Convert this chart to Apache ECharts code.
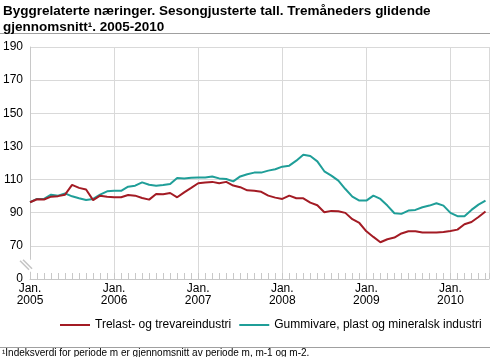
<!DOCTYPE html>
<html><head><meta charset="utf-8">
<script src="https://cdn.jsdelivr.net/npm/echarts@6/dist/echarts.min.js"></script>
<style>html,body{margin:0;padding:0;background:#fff}#c{width:496px;height:357px}</style>
</head><body><div id="c"></div>
<script>
const titleText = "Byggrelaterte næringer. Sesongjusterte tall. Tremåneders glidende\ngjennomsnitt¹. 2005-2010";
const footnote = "¹Indeksverdi for periode m er gjennomsnitt av periode m, m-1 og m-2.";
const seriesNames = ["Trelast- og trevareindustri", "Gummivare, plast og mineralsk industri"];
const yearLabels = ["2005","2006","2007","2008","2009","2010"];
const yTickLabels = ["0","70","90","110","130","150","170","190"];
// monthly values, Jan 2005 .. Jun 2010
const trelast = [96.3,98.1,98,99.7,100,100.9,106.8,105,104,97.6,100.3,99.7,
  99.3,99.3,100.7,100.3,98.9,97.9,101.3,101.1,101.9,99.3,102.3,105,
  107.8,108.2,108.6,107.8,108.6,106.4,105.4,103.5,103.2,102.6,100.3,99.1,
  98.3,100.3,98.7,98.7,96.1,94.5,90.3,91.1,90.9,89.9,86.1,83.8,
  78.8,75.4,72.2,74,75,77.5,78.8,78.8,78,78,78,78.4,
  79,79.8,83,84.4,87.4,90.7];
const gummivare = [96.3,98.3,98.3,100.9,100.3,101.7,99.9,98.7,97.7,98.3,100.9,102.9,
  103.2,103.2,105.7,106.3,108.3,106.9,106.3,106.7,107.3,110.9,110.7,111.1,
  111.3,111.3,111.9,110.7,110.3,108.9,111.9,113.2,114.2,114.2,115.4,116.2,
  117.8,118.4,121.4,125,124.2,121,115,112.4,109.4,104.3,99.7,97.3,
  97.3,100.3,98.3,94.3,89.7,89.3,91.3,91.7,93.3,94.3,95.7,94.3,
  89.9,87.9,87.9,91.7,94.9,97.3];

const toPairs = arr => arr.map((v, i) => [i, v]);
const font = "'Liberation Sans', Arial, sans-serif";
const chart = echarts.init(document.getElementById('c'), null, {renderer: 'canvas'});
chart.setOption({
  animation: false,
  textStyle: {fontFamily: font},
  title: {
    text: titleText, left: 3, top: 3, padding: 0,
    textStyle: {fontFamily: font, fontSize: 13.5, fontWeight: 'bold', color: '#000', lineHeight: 16}
  },
  grid: {left: 29, right: 7, top: 47, bottom: 78, containLabel: false},
  legend: {
    left: 60, top: 319, padding: 0, itemWidth: 30, itemHeight: 2, itemGap: 8, icon: 'rect',
    textStyle: {fontFamily: font, fontSize: 12, color: '#000'},
    data: seriesNames
  },
  xAxis: {
    type: 'value', min: 0, max: 65.5, interval: 12,
    axisLine: {show: true, lineStyle: {color: '#c8c8c8', width: 1}},
    axisTick: {show: true, inside: true, length: 6, lineStyle: {color: '#c8c8c8'}},
    minorTick: {show: true, splitNumber: 12, length: 6, lineStyle: {color: '#c8c8c8'}},
    splitLine: {show: true, lineStyle: {color: '#d9d9d9', width: 1}},
    axisLabel: {
      fontFamily: font, fontSize: 12, color: '#000', lineHeight: 12, margin: 4,
      showMaxLabel: false,
      formatter: v => { const k = Math.round(v / 12); return yearLabels[k] !== undefined ? 'Jan.\n' + yearLabels[k] : ''; }
    }
  },
  yAxis: {
    type: 'value', min: 50, max: 190, interval: 20,
    axisLine: {show: true, lineStyle: {color: '#c8c8c8'}},
    axisTick: {show: false},
    splitLine: {show: true, lineStyle: {color: '#d9d9d9', width: 1}},
    axisLabel: {
      fontFamily: font, fontSize: 12, color: '#000', margin: 7,
      formatter: v => yTickLabels[Math.round((v - 50) / 20)]
    }
  },
  series: [
    {name: seriesNames[0], type: 'line', data: toPairs(trelast), symbol: 'none',
     lineStyle: {color: '#a31b24', width: 2}, itemStyle: {color: '#a31b24'}, z: 3},
    {name: seriesNames[1], type: 'line', data: toPairs(gummivare), symbol: 'none',
     lineStyle: {color: '#1f9e98', width: 2}, itemStyle: {color: '#1f9e98'}, z: 2}
  ]
});
// axis-break marker, title rule and footnote
const p = chart.convertToPixel({gridIndex: 0}, [0, 58]);
const bx = p[0], by = p[1];
chart.setOption({
  graphic: [
    {type: 'rect', shape: {x: bx - 4, y: by - 6, width: 8, height: 12}, style: {fill: '#fff'}, z: 100},
    {type: 'line', shape: {x1: bx - 10, y1: by - 5, x2: bx - 1, y2: by + 4}, style: {stroke: '#c4c4c4', lineWidth: 1.5}, z: 101},
    {type: 'line', shape: {x1: bx - 7, y1: by - 6, x2: bx + 2, y2: by + 3}, style: {stroke: '#c4c4c4', lineWidth: 1.5}, z: 101},
    {type: 'line', shape: {x1: 0, y1: 33.5, x2: 490, y2: 33.5}, style: {stroke: '#a0a0a0', lineWidth: 1}},
    {type: 'line', shape: {x1: 0, y1: 347.5, x2: 490, y2: 347.5}, style: {stroke: '#a0a0a0', lineWidth: 1}},
    {type: 'text', left: 2, top: 348, style: {text: footnote, font: "10px 'Liberation Sans', Arial, sans-serif", fill: '#000'}}
  ]
});
</script></body></html>
